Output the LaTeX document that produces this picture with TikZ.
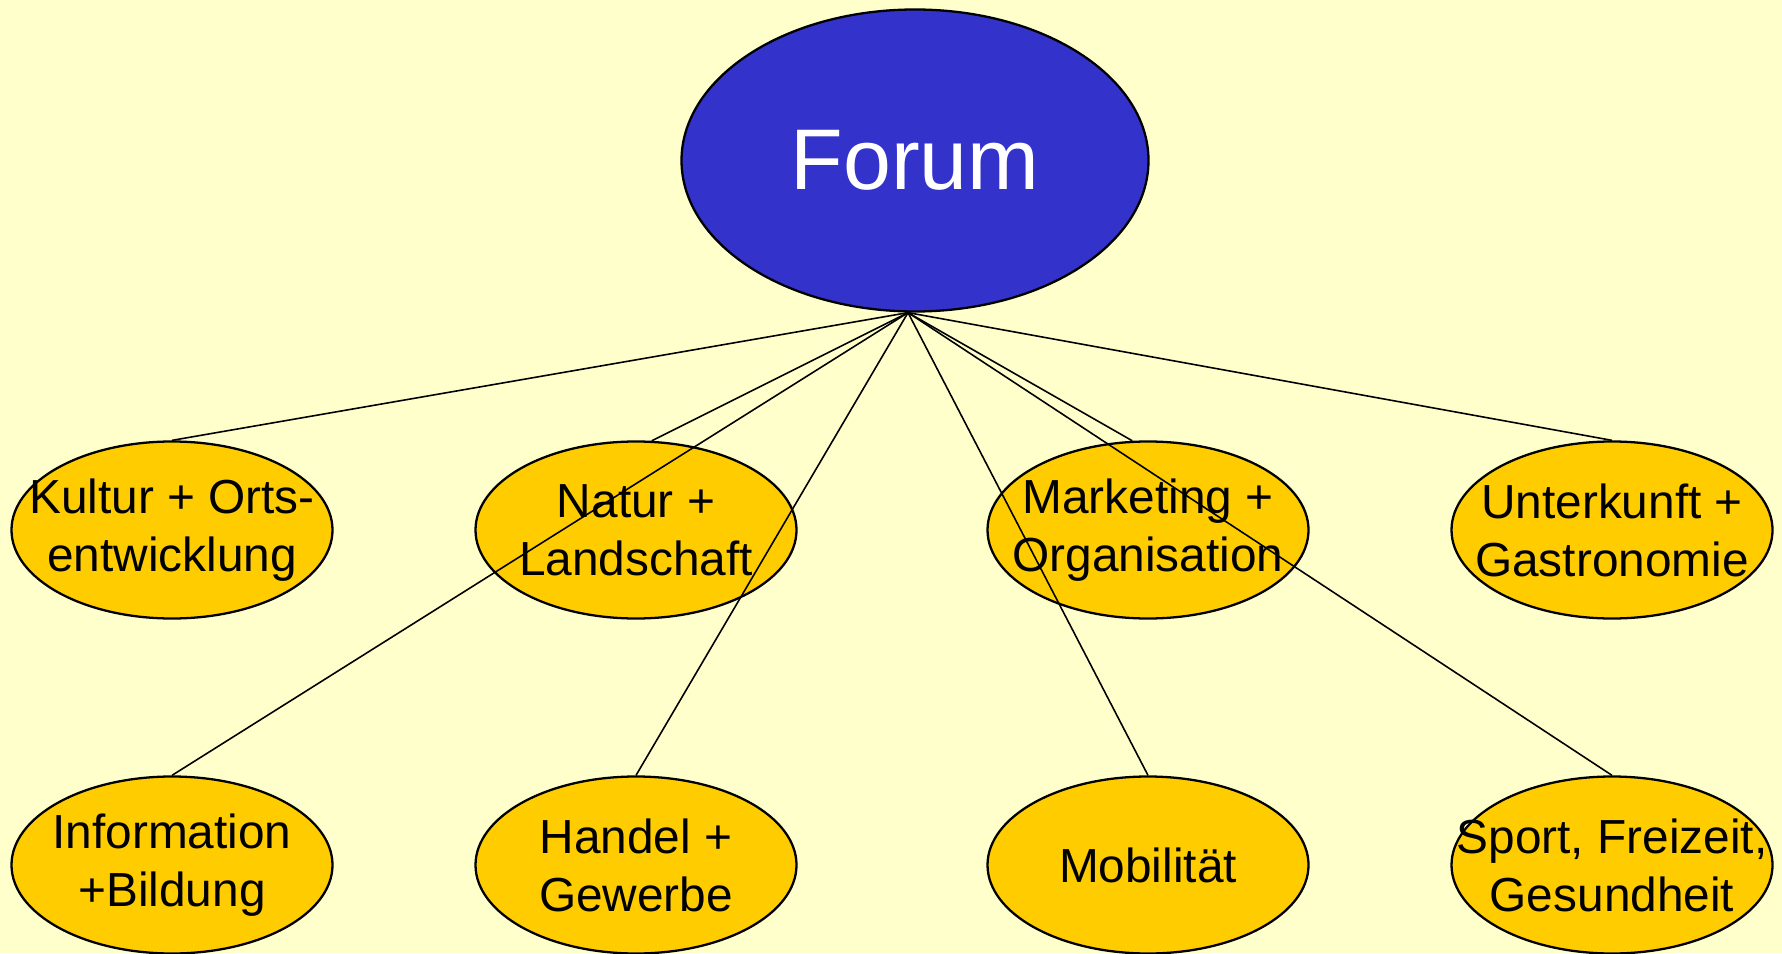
\documentclass[tikz,border=0pt]{standalone}
\usepackage{fontspec}
\setmainfont{Liberation Sans}
\usepackage{xcolor}
\usepackage{tikz}
\usetikzlibrary{shapes.geometric}
\definecolor{paper}{HTML}{FFFFCC}
\definecolor{forumblue}{HTML}{3333CC}
\definecolor{topicgold}{HTML}{FFCC00}
\tikzset{
forum/.style = { ellipse, draw = black, fill = forumblue, line width = 0.65pt, minimum width = 46.7mm, minimum height = 30.2mm, inner sep = 0pt, text = white, font = \fontsize{24.5}{29}\selectfont },
topic/.style = { ellipse, draw = black, fill = topicgold, line width = 0.65pt, minimum width = 32.1mm, minimum height = 17.7mm, inner xsep = -6mm, inner ysep = 0pt, align = center, font = \fontsize{13.6}{16.5}\selectfont },
link/.style = { draw = black, line width = 0.45pt },
}

\begin{document}
\begin{tikzpicture}
    \useasboundingbox (0, 0) rectangle (17.82, -9.53);
    \fill[paper] (0, 0) rectangle (17.82, -9.53);
    \node[forum] (forum) at (9.15, -1.605) {Forum};
    \coordinate (hub) at ([xshift=-0.07cm]forum.south);
    \node[topic] (kultur) at (1.72, -5.30) {Kultur + Orts-\\entwicklung};
    \node[topic] (natur) at (6.36, -5.30) {Natur +\\Landschaft};
    \node[topic] (marketing) at (11.48, -5.30) {Marketing +\\Organisation};
    \node[topic] (unterkunft) at (16.12, -5.30) {Unterkunft +\\Gastronomie};
    \node[topic] (information) at (1.72, -8.65) {Information\\+Bildung};
    \node[topic] (handel) at (6.36, -8.65) {Handel +\\Gewerbe};
    \node[topic] (mobil) at (11.48, -8.65) {Mobilität};
    \node[topic] (sport) at (16.12, -8.65) {Sport, Freizeit,\\Gesundheit};
    % lines on top of the ellipses
    \draw[link] (hub) -- (kultur.north);
    \draw[link] (hub) -- (natur.80);
    \draw[link] (hub) -- (marketing.100);
    \draw[link] (hub) -- (unterkunft.north);
    \draw[link] (hub) -- (information.north);
    \draw[link] (hub) -- (handel.north);
    \draw[link] (hub) -- (mobil.north);
    \draw[link] (hub) -- (sport.north);
\end{tikzpicture}
\end{document}
